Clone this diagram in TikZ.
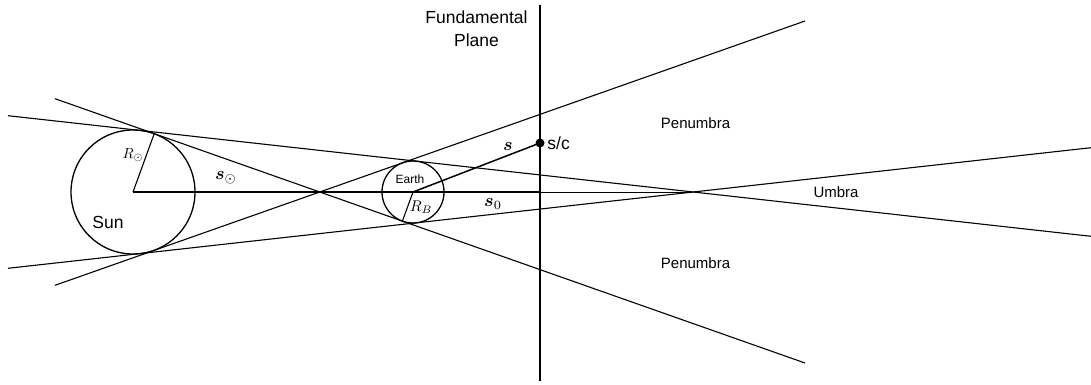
\documentclass[tikz,border=0pt]{standalone}
\usepackage{fontspec}
\setsansfont{Liberation Sans}
\usepackage{amsmath,amssymb}
\usepackage{tikz}
\usetikzlibrary{positioning,calc}
\newcommand{\mathlab}[2]{\scalebox{#1}{$#2$}}
\tikzset{
  body/.style={circle,draw,line width=1.3pt,inner sep=0pt,outer sep=0pt},
  ray/.style={line width=1.1pt},
  axis/.style={line width=1.5pt},
  thinaxis/.style={line width=0.7pt},
  plane/.style={line width=2pt},
  txt/.style={font=\sffamily\fontsize{15}{18}\selectfont,inner sep=0pt},
  bigtxt/.style={font=\sffamily\fontsize{17.5}{23.4}\selectfont,inner sep=0pt,align=center},
  sym/.style={inner sep=0pt}
}

\begin{document}
\begin{tikzpicture}[x=1pt,y=-1pt]
\useasboundingbox (0,0) rectangle (1091,385);

\node[body,minimum size=124pt] (sun) at (133,192) {};
\node[body,minimum size=62pt] (earth) at (413,192) {};
\node[circle,fill,inner sep=0pt,minimum size=9pt] (sc) at (540,143) {};

\coordinate (fp1) at (540,5);
\coordinate (fp2) at (540,381);
\coordinate (fpc) at (540,192);
\coordinate (apex) at (692,192);

\coordinate (u1) at (8,115.7);
\coordinate (u2) at (1091,236.3);
\coordinate (l1) at (8,268.3);
\coordinate (l2) at (1091,147.7);
\coordinate (c1) at (55,98.7);
\coordinate (c2) at (805,363);
\coordinate (d1) at (55,285.3);
\coordinate (d2) at (805,21);

\draw[ray] (u1) -- (u2);
\draw[ray] (l1) -- (l2);
\draw[ray] (c1) -- (c2);
\draw[ray] (d1) -- (d2);

\draw[axis] (sun.center) -- (fpc);
\draw[thinaxis] (fpc) -- (apex);
\draw[plane] (fp1) -- (fp2);
\draw[axis] (earth.center) -- (sc.center);
\draw[ray] (sun.center) -- (sun.70.6);
\draw[ray] (earth.center) -- (earth.250.6);

\node[bigtxt] (fplab) at (476.5,29) {Fundamental\\Plane};
\node[bigtxt,right=2.5pt of sc] (sclab) {s/c};
\node[bigtxt] (sunlab) at (108,222) {Sun};
\node[txt,font=\sffamily\fontsize{12}{14}\selectfont] (earthlab) at (410,179) {Earth};
\node[txt] (pen1) at (695.5,123.5) {Penumbra};
\node[txt] (pen2) at (695.5,263.5) {Penumbra};
\node[txt] (umb) at (836,192) {Umbra};

\node[sym] (slab) at (508,146) {\mathlab{1.8}{\boldsymbol{s}}};
\node[sym] (ssun) at (226,178) {\mathlab{1.8}{\boldsymbol{s}_\odot}};
\node[sym] (s0) at (493,204) {\mathlab{1.8}{\boldsymbol{s}_0}};
\node[sym] (rsun) at (133,155) {\mathlab{1.45}{R_\odot}};
\node[sym] (rb) at (421,207) {\mathlab{1.55}{R_B}};
\end{tikzpicture}
\end{document}
